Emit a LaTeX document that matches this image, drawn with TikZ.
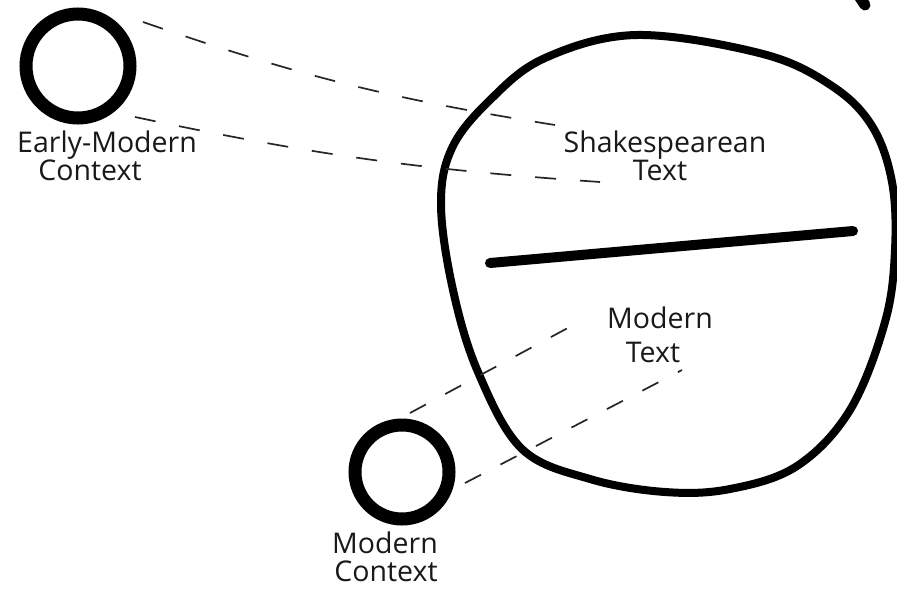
\documentclass[tikz,border=0pt]{standalone}
\usepackage{fontspec}
\setmainfont{Open Sans}
\begin{document}
\begin{tikzpicture}[x=1pt,y=-1pt,
  ring/.style={circle,draw=black,inner sep=0pt,outer sep=0pt},
  hand/.style={font=\fontsize{28.5}{31}\selectfont,anchor=base,inner sep=0pt,text=black!90},
  dashlink/.style={draw=black!85,line width=1.7pt,dash pattern=on 21pt off 24pt}]
\useasboundingbox (0,0) rectangle (897,590);
\fill[white] (0,0) rectangle (897,590);
% big shape
\draw[line width=8pt,line join=round] plot[smooth cycle,tension=0.6] coordinates {
 (637,35) (763,54) (832,86) (872,126) (892,182) (895,250) (885,322) (850,410)
 (797,466) (730,489) (665,492) (590,479) (522,449) (478,372) (453,290) (441,205)
 (452,148) (490,100) (545,58)};
% dividing bar
\draw[line width=10pt,line cap=round] (490,263) -- (853,231);
% top-right mark
\draw[line width=11pt,line cap=round] (859,-4) -- (865,5);
% small circles
\node[ring,line width=13pt,minimum size=104pt] (emc) at (78,66) {};
\node[ring,line width=13pt,minimum size=94pt] (mc) at (402,472) {};
% labels
\node[hand] (emcl1) at (107,152) {Early-Modern};
\node[hand] (emcl2) at (90,180) {Context};
\node[hand] (st1) at (665,152) {Shakespearean};
\node[hand] (st2) at (660,180) {Text};
\node[hand] (mt1) at (660,328) {Modern};
\node[hand] (mt2) at (653,362) {Text};
\node[hand] (mcl1) at (385,553) {Modern};
\node[hand] (mcl2) at (386,581) {Context};
% link end points
\coordinate (emcA) at (143,22);
\coordinate (emcB) at (135,117);
\coordinate (stA) at (555,125);
\coordinate (stB) at (600,182);
\coordinate (mcA) at (410,413);
\coordinate (mcB) at (465,483);
\coordinate (mtA) at (577,323);
\coordinate (mtB) at (682,370);
% dashed connectors
\draw[dashlink] (emcA) to[bend right=5] (stA);
\draw[dashlink] (emcB) to[bend right=4] (stB);
\draw[dashlink,dash pattern=on 18pt off 22pt] (mcA) -- (mtA);
\draw[dashlink,dash pattern=on 18pt off 22pt] (mcB) -- (mtB);
\end{tikzpicture}
\end{document}
